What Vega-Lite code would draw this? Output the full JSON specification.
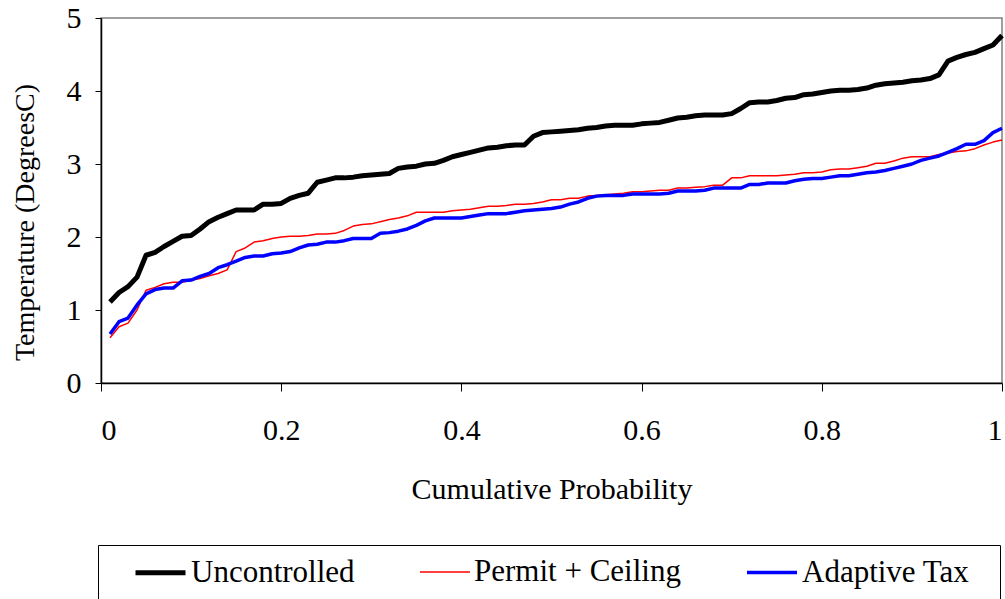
{
  "$schema": "https://vega.github.io/schema/vega-lite/v6.json",
  "autosize": {"type": "none"},
  "width": 901,
  "height": 365,
  "padding": {"left": 101, "top": 18, "right": 3, "bottom": 216},
  "background": "white",
  "config": {
    "font": "Liberation Serif",
    "view": {"stroke": "#808080", "strokeWidth": 1.5},
    "axis": {"grid": false, "domainColor": "#000000", "domainWidth": 1.5, "tickColor": "#000000", "tickWidth": 1, "labelFont": "Liberation Serif", "titleFont": "Liberation Serif", "labelColor": "#000000", "titleColor": "#000000", "titleFontWeight": "normal"},
    "legend": {"titleFontSize": 2, "titleLineHeight": 64, "titleLimit": 2000, "titleOrient": "right", "titlePadding": 30,
      "orient": "none", "legendX": -3, "legendY": 527, "direction": "horizontal",
      "symbolType": "stroke", "symbolSize": 2500, "labelFontSize": 31, "labelFont": "Liberation Serif", "labelColor": "#000000", "labelLimit": 1000,
      "strokeColor": "#000000", "padding": 0, "symbolOffset": 35, "columnPadding": 29, "labelOffset": 3}
  },
  "data": {"values": [
    {"p":0.01,"U":1.11,"P":0.62,"A":0.67},{"p":0.02,"U":1.24,"P":0.77,"A":0.84},{"p":0.03,"U":1.32,"P":0.82,"A":0.89},{"p":0.04,"U":1.45,"P":1.00,"A":1.07},{"p":0.05,"U":1.75,"P":1.27,"A":1.22},
    {"p":0.06,"U":1.79,"P":1.31,"A":1.28},{"p":0.07,"U":1.87,"P":1.36,"A":1.30},{"p":0.08,"U":1.94,"P":1.38,"A":1.30},{"p":0.09,"U":2.01,"P":1.38,"A":1.40},{"p":0.10,"U":2.02,"P":1.41,"A":1.41},
    {"p":0.11,"U":2.11,"P":1.43,"A":1.46},{"p":0.12,"U":2.21,"P":1.47,"A":1.50},{"p":0.13,"U":2.27,"P":1.50,"A":1.58},{"p":0.14,"U":2.32,"P":1.55,"A":1.62},{"p":0.15,"U":2.37,"P":1.80,"A":1.67},
    {"p":0.16,"U":2.37,"P":1.85,"A":1.72},{"p":0.17,"U":2.37,"P":1.93,"A":1.74},{"p":0.18,"U":2.45,"P":1.95,"A":1.74},{"p":0.19,"U":2.45,"P":1.98,"A":1.77},{"p":0.20,"U":2.46,"P":2.00,"A":1.78},
    {"p":0.21,"U":2.53,"P":2.01,"A":1.80},{"p":0.22,"U":2.57,"P":2.01,"A":1.85},{"p":0.23,"U":2.60,"P":2.02,"A":1.89},{"p":0.24,"U":2.75,"P":2.04,"A":1.90},{"p":0.25,"U":2.78,"P":2.04,"A":1.93},
    {"p":0.26,"U":2.81,"P":2.05,"A":1.93},{"p":0.27,"U":2.81,"P":2.09,"A":1.95},{"p":0.28,"U":2.82,"P":2.15,"A":1.98},{"p":0.29,"U":2.84,"P":2.17,"A":1.98},{"p":0.30,"U":2.85,"P":2.18,"A":1.98},
    {"p":0.31,"U":2.86,"P":2.21,"A":2.05},{"p":0.32,"U":2.87,"P":2.24,"A":2.06},{"p":0.33,"U":2.94,"P":2.26,"A":2.08},{"p":0.34,"U":2.96,"P":2.29,"A":2.11},{"p":0.35,"U":2.97,"P":2.34,"A":2.16},
    {"p":0.36,"U":3.00,"P":2.34,"A":2.22},{"p":0.37,"U":3.01,"P":2.34,"A":2.26},{"p":0.38,"U":3.05,"P":2.34,"A":2.26},{"p":0.39,"U":3.10,"P":2.36,"A":2.26},{"p":0.40,"U":3.13,"P":2.37,"A":2.26},
    {"p":0.41,"U":3.16,"P":2.38,"A":2.28},{"p":0.42,"U":3.19,"P":2.40,"A":2.30},{"p":0.43,"U":3.22,"P":2.42,"A":2.32},{"p":0.44,"U":3.23,"P":2.42,"A":2.32},{"p":0.45,"U":3.25,"P":2.43,"A":2.32},
    {"p":0.46,"U":3.26,"P":2.45,"A":2.34},{"p":0.47,"U":3.26,"P":2.45,"A":2.36},{"p":0.48,"U":3.38,"P":2.46,"A":2.37},{"p":0.49,"U":3.43,"P":2.48,"A":2.38},{"p":0.50,"U":3.44,"P":2.51,"A":2.39},
    {"p":0.51,"U":3.45,"P":2.51,"A":2.41},{"p":0.52,"U":3.46,"P":2.53,"A":2.45},{"p":0.53,"U":3.47,"P":2.53,"A":2.48},{"p":0.54,"U":3.49,"P":2.56,"A":2.53},{"p":0.55,"U":3.50,"P":2.57,"A":2.56},
    {"p":0.56,"U":3.52,"P":2.58,"A":2.57},{"p":0.57,"U":3.53,"P":2.59,"A":2.57},{"p":0.58,"U":3.53,"P":2.60,"A":2.57},{"p":0.59,"U":3.53,"P":2.62,"A":2.59},{"p":0.60,"U":3.55,"P":2.62,"A":2.59},
    {"p":0.61,"U":3.56,"P":2.63,"A":2.59},{"p":0.62,"U":3.57,"P":2.64,"A":2.59},{"p":0.63,"U":3.60,"P":2.64,"A":2.60},{"p":0.64,"U":3.63,"P":2.67,"A":2.63},{"p":0.65,"U":3.64,"P":2.67,"A":2.63},
    {"p":0.66,"U":3.66,"P":2.68,"A":2.63},{"p":0.67,"U":3.67,"P":2.69,"A":2.64},{"p":0.68,"U":3.67,"P":2.71,"A":2.67},{"p":0.69,"U":3.67,"P":2.71,"A":2.67},{"p":0.70,"U":3.69,"P":2.81,"A":2.67},
    {"p":0.71,"U":3.76,"P":2.81,"A":2.67},{"p":0.72,"U":3.84,"P":2.84,"A":2.72},{"p":0.73,"U":3.85,"P":2.84,"A":2.72},{"p":0.74,"U":3.85,"P":2.84,"A":2.74},{"p":0.75,"U":3.87,"P":2.84,"A":2.74},
    {"p":0.76,"U":3.90,"P":2.85,"A":2.74},{"p":0.77,"U":3.91,"P":2.86,"A":2.77},{"p":0.78,"U":3.95,"P":2.88,"A":2.79},{"p":0.79,"U":3.96,"P":2.88,"A":2.80},{"p":0.80,"U":3.98,"P":2.89,"A":2.80},
    {"p":0.81,"U":4.00,"P":2.92,"A":2.82},{"p":0.82,"U":4.01,"P":2.93,"A":2.84},{"p":0.83,"U":4.01,"P":2.93,"A":2.84},{"p":0.84,"U":4.02,"P":2.95,"A":2.86},{"p":0.85,"U":4.04,"P":2.97,"A":2.88},
    {"p":0.86,"U":4.08,"P":3.01,"A":2.89},{"p":0.87,"U":4.10,"P":3.01,"A":2.91},{"p":0.88,"U":4.11,"P":3.04,"A":2.94},{"p":0.89,"U":4.12,"P":3.08,"A":2.97},{"p":0.90,"U":4.14,"P":3.10,"A":3.00},
    {"p":0.91,"U":4.15,"P":3.10,"A":3.05},{"p":0.92,"U":4.17,"P":3.10,"A":3.08},{"p":0.93,"U":4.22,"P":3.13,"A":3.11},{"p":0.94,"U":4.41,"P":3.15,"A":3.16},{"p":0.95,"U":4.46,"P":3.17,"A":3.21},
    {"p":0.96,"U":4.50,"P":3.18,"A":3.27},{"p":0.97,"U":4.53,"P":3.21,"A":3.27},{"p":0.98,"U":4.58,"P":3.26,"A":3.32},{"p":0.99,"U":4.63,"P":3.30,"A":3.43},{"p":1.00,"U":4.76,"P":3.33,"A":3.49}
  ]},
  "transform": [
    {"fold": ["U", "P", "A"], "as": ["key", "t"]},
    {"lookup": "key", "from": {"data": {"values": [
      {"key": "U", "series": "Uncontrolled"},
      {"key": "P", "series": "Permit + Ceiling"},
      {"key": "A", "series": "Adaptive Tax"}
    ]}, "key": "key", "fields": ["series"]}}
  ],
  "mark": {"type": "line", "strokeJoin": "round"},
  "encoding": {
    "x": {"field": "p", "type": "quantitative",
      "scale": {"domain": [0, 1], "nice": false, "zero": false},
      "axis": {"values": [0, 0.2, 0.4, 0.6, 0.8, 1], "format": "~g", "title": "Cumulative Probability",
        "labelFontSize": 30, "titleFontSize": 30, "tickSize": 8, "labelPadding": 24, "titlePadding": 29}},
    "y": {"field": "t", "type": "quantitative",
      "scale": {"domain": [0, 5], "nice": false},
      "axis": {"values": [0, 1, 2, 3, 4, 5], "title": "Temperature (DegreesC)",
        "labelFontSize": 30, "titleFontSize": 28, "tickSize": 6, "labelPadding": 14, "titlePadding": 27, "titleY": 204}},
    "color": {"field": "series", "type": "nominal",
      "scale": {"domain": ["Uncontrolled", "Permit + Ceiling", "Adaptive Tax"], "range": ["#000000", "#ff0000", "#0000ff"]},
      "legend": {"title": ["\u2800", "\u2800"]}},
    "strokeWidth": {"field": "series", "type": "nominal",
      "scale": {"type": "ordinal", "domain": ["Uncontrolled", "Permit + Ceiling", "Adaptive Tax"], "range": [5, 1.5, 3.5]},
      "legend": {"title": ["\u2800", "\u2800"]}},
    "order": {"field": "p", "type": "quantitative"}
  }
}
